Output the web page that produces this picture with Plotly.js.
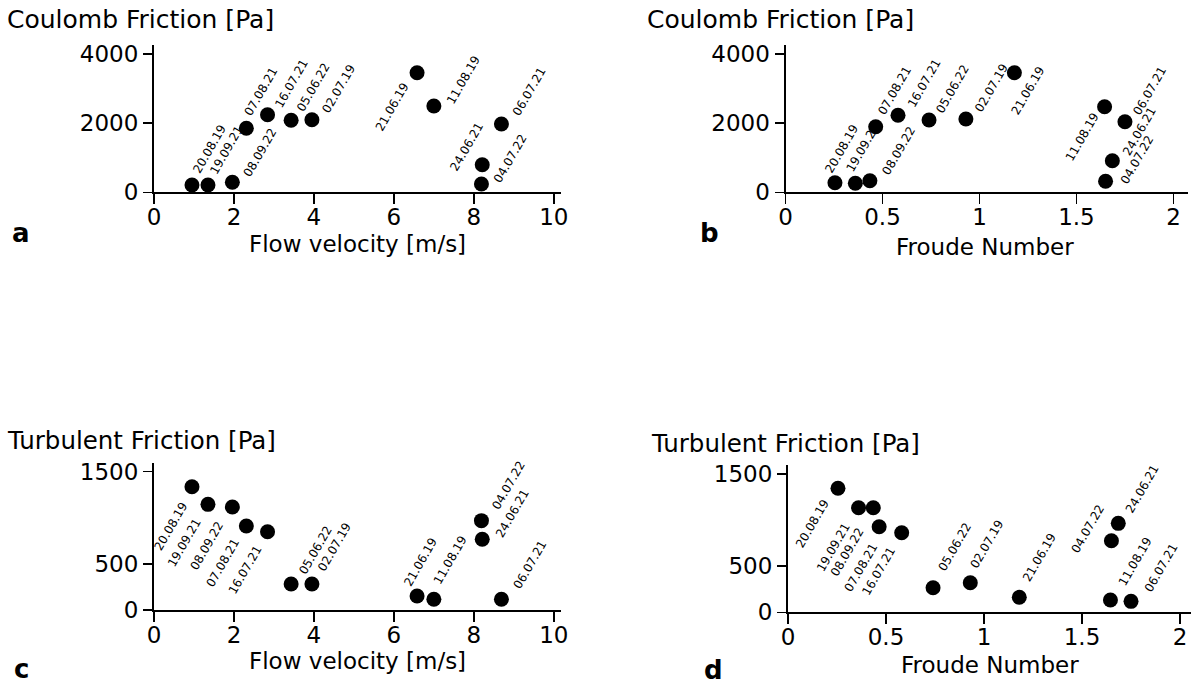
<!DOCTYPE html>
<html>
<head>
<meta charset="utf-8">
<script src="https://cdn.plot.ly/plotly-3.0.1.min.js"></script>
<style>html,body{margin:0;padding:0;background:#fff;}#chart{width:1192px;height:684px;}</style>
</head>
<body>
<div id="chart"></div>
<script>
// ---- data ----
const dates = ["20.08.19","19.09.21","08.09.22","07.08.21","16.07.21","05.06.22","02.07.19","21.06.19","11.08.19","06.07.21","24.06.21","04.07.22"];
const flowVelocity = [0.95, 1.35, 1.96, 2.31, 2.84, 3.43, 3.95, 6.58, 7.0, 8.69, 8.21, 8.19];
const froudeNumber = [0.255, 0.36, 0.435, 0.465, 0.58, 0.74, 0.93, 1.18, 1.645, 1.75, 1.685, 1.65];
const coulombA = [211, 211, 290, 1850, 2243, 2081, 2098, 3457, 2494, 1974, 798, 240];
const coulombB = [277, 260, 335, 1896, 2225, 2090, 2118, 3457, 2474, 2040, 913, 318];
const turbulentC = [1337, 1146, 1117, 911, 849, 282, 282, 152, 116, 116, 767, 969];
const turbulentD = [1345, 1135, 1135, 928, 863, 267, 321, 163, 133, 119, 965, 777];
const velTicks = [0, 2, 4, 6, 8, 10];
const frTicks = [0, 0.5, 1, 1.5, 2];
const coulombTicks = [0, 2000, 4000];
const turbTicks = [0, 500, 1500];

// ---- label placement (style): [xanchor, yanchor, dx, dy] in px, dy downward ----
const placeA = [["left","bottom",-3,-8],["left","bottom",-2,-7],["left","bottom",7,-1],["left","bottom",-6,-8],["left","bottom",3,-3],["left","bottom",2,-5],["left","bottom",6,-3],["right","top",-4,7],["left","bottom",9,2],["left","bottom",7,-4],["right","bottom",5,10],["left","bottom",8,3]];
const placeB = [["left","bottom",-14,-6],["left","bottom",-13,-7],["left","bottom",8,-2],["left","bottom",-2,-8],["left","bottom",6,-4],["left","bottom",3,-3],["left","bottom",5,-3],["left","top",-7,-9],["right","top",-2,2],["left","bottom",4,-3],["left","bottom",6,-1],["left","bottom",11,7]];
const placeC = [["right","top",-1,12],["right","top",-3,11],["right","top",-5,11],["right","top",-3,9],["right","top",-2,10],["left","bottom",4,-6],["left","bottom",2,-9],["left","bottom",-17,-6],["left","bottom",-4,-11],["left","bottom",8,-6],["left","bottom",10,2],["left","bottom",6,-7]];
const placeD = [["right","top",-5,8],["right","top",-4,12],["right","top",-5,17],["right","top",2,13],["right","top",-3,11],["left","bottom",1,-13],["left","bottom",-4,-11],["left","bottom",0,-12],["left","bottom",4,-10],["left","bottom",9,-6],["left","bottom",3,-7],["right","bottom",-3,16]];

const W = 1192, H = 684;
const FONT = "DejaVu Sans";
const px = v => v / W;
const py = v => 1 - v / H;

function xAx(domain, range, ticks) {
  return {domain: domain, range: range, tickvals: ticks, ticktext: ticks.map(String),
    showline: true, linecolor: "#000", linewidth: 2, ticks: "outside", ticklen: 10, tickwidth: 1.5,
    tickcolor: "#000", showgrid: false, zeroline: false, fixedrange: true, ticklabelstandoff: -7,
    tickfont: {family: FONT, size: 23, color: "#000"}};
}
function yAx(domain, range, ticks) {
  return {domain: domain, range: range, tickvals: ticks, ticktext: ticks.map(String),
    showline: true, linecolor: "#000", linewidth: 2, ticks: "outside", ticklen: 9, tickwidth: 1.5,
    tickcolor: "#000", showgrid: false, zeroline: false, fixedrange: true,
    tickfont: {family: FONT, size: 23, color: "#000"}};
}

const panels = [
  {x: flowVelocity, y: coulombA, xa: "x", ya: "y", place: placeA},
  {x: froudeNumber, y: coulombB, xa: "x2", ya: "y2", place: placeB},
  {x: flowVelocity, y: turbulentC, xa: "x3", ya: "y3", place: placeC},
  {x: froudeNumber, y: turbulentD, xa: "x4", ya: "y4", place: placeD}
];

const traces = panels.map(p => ({
  type: "scatter", mode: "markers", x: p.x, y: p.y, xaxis: p.xa, yaxis: p.ya,
  marker: {color: "#000", size: 15}, cliponaxis: false, hoverinfo: "skip", showlegend: false
}));

const annotations = [];
panels.forEach(p => {
  dates.forEach((d, i) => {
    const pl = p.place[i];
    annotations.push({text: d, x: p.x[i], y: p.y[i], xref: p.xa, yref: p.ya, showarrow: false,
      textangle: -60, xanchor: pl[0], yanchor: pl[1], xshift: pl[2], yshift: -pl[3],
      font: {family: FONT, size: 12, color: "#000"}, borderpad: 0});
  });
});

function paperText(text, x, y, size, bold, xanchor) {
  annotations.push({text: bold ? "<b>" + text + "</b>" : text, x: px(x), y: py(y), xref: "paper", yref: "paper",
    showarrow: false, xanchor: xanchor || "left", yanchor: "middle",
    font: {family: FONT, size: size, color: "#000"}});
}
paperText("Coulomb Friction [Pa]", 5, 20, 25);
paperText("Coulomb Friction [Pa]", 645, 20, 25);
paperText("Turbulent Friction [Pa]", 5, 440, 24.5);
paperText("Turbulent Friction [Pa]", 649, 443, 24.5);
paperText("Flow velocity [m/s]", 357, 244, 23, false, "center");
paperText("Froude Number", 985, 247, 23, false, "center");
paperText("Flow velocity [m/s]", 357, 661, 23, false, "center");
paperText("Froude Number", 990, 665, 23, false, "center");
paperText("a", 10, 233, 26, true);
paperText("b", 698, 233, 26, true);
paperText("c", 12, 669, 26, true);
paperText("d", 702, 670, 26, true);

const layout = {
  width: W, height: H, margin: {l: 0, r: 0, t: 0, b: 0},
  paper_bgcolor: "#fff", plot_bgcolor: "rgba(0,0,0,0)", showlegend: false,
  xaxis: Object.assign(xAx([px(154), px(561)], [0, 10.18], velTicks), {anchor: "y"}),
  yaxis: Object.assign(yAx([py(192.3), py(45)], [0, 4257], coulombTicks), {anchor: "x"}),
  xaxis2: Object.assign(xAx([px(785.5), px(1188)], [0, 2.075], frTicks), {anchor: "y2"}),
  yaxis2: Object.assign(yAx([py(192.3), py(45)], [0, 4257], coulombTicks), {anchor: "x2"}),
  xaxis3: Object.assign(xAx([px(154), px(561)], [0, 10.18], velTicks), {anchor: "y3"}),
  yaxis3: Object.assign(yAx([py(610), py(463.3)], [0, 1591], turbTicks), {anchor: "x3"}),
  xaxis4: Object.assign(xAx([px(788), px(1191)], [0, 2.056], frTicks), {anchor: "y4"}),
  yaxis4: Object.assign(yAx([py(612.3), py(465)], [0, 1598], turbTicks), {anchor: "x4"}),
  annotations: annotations
};

Plotly.newPlot("chart", traces, layout, {displayModeBar: false, staticPlot: true});
</script>
</body>
</html>
